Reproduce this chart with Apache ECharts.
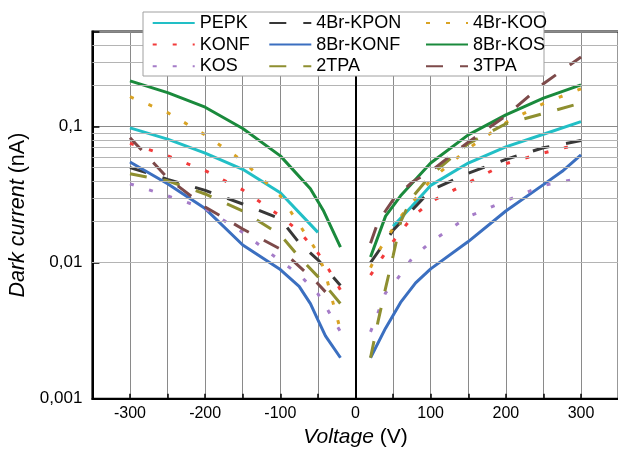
<!DOCTYPE html>
<html><head><meta charset="utf-8">
<script src="https://cdn.jsdelivr.net/npm/echarts@6/dist/echarts.min.js"></script>
<style>html,body{margin:0;padding:0;background:#fff}#c{width:618px;height:449px}</style>
</head><body><div id="c"></div>
<script>
// ---- data (Voltage V, Dark current nA) ----
const xTicks = [-300, -200, -100, 0, 100, 200, 300];
const yTicks = ['0,001', '0,01', '0,1'];
const minorGridY = [0.002,0.003,0.004,0.005,0.006,0.007,0.008,0.009,
                    0.02,0.03,0.04,0.05,0.06,0.07,0.08,0.09,0.2,0.3,0.4];

const pepkNegV = [-300,-250,-200,-150,-100,-50];
const pepkNegI = [0.098,0.081,0.064,0.0486,0.0327,0.0167];
const pepkPosV = [50,75,100,150,200,250,300];
const pepkPosI = [0.0185,0.026,0.037,0.054,0.071,0.088,0.109];

const kponNegV = [-300,-250,-200,-150,-100,-75,-50,-20];
const kponNegI = [0.050,0.041,0.034,0.027,0.021,0.014,0.0105,0.0068];
const kponPosV = [20,50,100,150,200,250,300];
const kponPosI = [0.010,0.0173,0.034,0.0455,0.0575,0.070,0.079];

const kooNegV = [-300,-250,-200,-150,-100,-50,-40,-30,-20];
const kooNegI = [0.166,0.127,0.087,0.056,0.031,0.0118,0.0083,0.0051,0.0032];
const kooPosV = [20,30,60,100,150,200,250,300];
const kooPosI = [0.0092,0.012,0.0218,0.0405,0.069,0.107,0.148,0.19];

const konfNegV = [-300,-250,-200,-150,-100,-75,-50,-35,-20];
const konfNegI = [0.0755,0.061,0.0475,0.0343,0.022,0.017,0.0118,0.0088,0.0063];
const konfPosV = [20,35,50,75,100,150,200,250,300];
const konfPosI = [0.0081,0.0108,0.0143,0.0215,0.028,0.0388,0.0535,0.064,0.075];

const brKonfNegV = [-300,-250,-200,-150,-100,-75,-60,-50,-40,-20];
const brKonfNegI = [0.055,0.038,0.025,0.0135,0.0089,0.0067,0.005,0.0038,0.0029,0.0020];
const brKonfPosV = [20,40,60,80,100,150,200,250,275,300];
const brKonfPosI = [0.0020,0.0033,0.0051,0.0071,0.009,0.0143,0.024,0.0375,0.047,0.062];

const brKosNegV = [-300,-250,-200,-150,-100,-60,-43,-20];
const brKosNegI = [0.217,0.178,0.139,0.097,0.061,0.035,0.0243,0.013];
const brKosPosV = [20,40,60,100,150,200,250,300];
const brKosPosI = [0.011,0.022,0.031,0.054,0.087,0.122,0.162,0.203];

const kosNegV = [-300,-250,-200,-150,-100,-75,-50,-40,-20];
const kosNegI = [0.038,0.031,0.025,0.0167,0.0103,0.0082,0.0059,0.0048,0.0031];
const kosPosV = [20,30,40,55,75,100,150,200,250,300];
const kosPosI = [0.0031,0.0043,0.006,0.0075,0.0107,0.0142,0.0218,0.0285,0.037,0.042];

const tpa2NegV = [-300,-250,-200,-150,-100,-75,-50,-20];
const tpa2NegI = [0.045,0.040,0.032,0.024,0.016,0.011,0.0079,0.0050];
const tpa2PosV = [20,30,40,50,60,75,100,150,200,250,300];
const tpa2PosI = [0.0020,0.0037,0.0065,0.0112,0.020,0.030,0.044,0.075,0.105,0.125,0.149];

const tpa3NegV = [-300,-250,-200,-150,-100,-75,-50,-40];
const tpa3NegI = [0.083,0.042,0.0257,0.0177,0.0126,0.0094,0.0070,0.0061];
const tpa3PosV = [20,30,50,75,100,150,200,250,300];
const tpa3PosI = [0.0139,0.0200,0.029,0.039,0.047,0.077,0.12,0.207,0.325];

// ---- styling ----
const FONT = "'Liberation Sans', Arial, sans-serif";
const DASH = [17, 17];
const DOT = [4, 16];
const defs = [
  {name:'PEPK',     color:'#22bfc6', type:'solid', neg:[pepkNegV,pepkNegI],   pos:[pepkPosV,pepkPosI]},
  {name:'4Br-KPON', color:'#383838', type:DASH,    neg:[kponNegV,kponNegI],   pos:[kponPosV,kponPosI]},
  {name:'4Br-KOO',  color:'#d9a324', type:DOT,     neg:[kooNegV,kooNegI],     pos:[kooPosV,kooPosI]},
  {name:'KONF',     color:'#f23b3b', type:DOT,     neg:[konfNegV,konfNegI],   pos:[konfPosV,konfPosI]},
  {name:'8Br-KONF', color:'#3b6fc0', type:'solid', neg:[brKonfNegV,brKonfNegI], pos:[brKonfPosV,brKonfPosI]},
  {name:'8Br-KOS',  color:'#1a8a3c', type:'solid', neg:[brKosNegV,brKosNegI], pos:[brKosPosV,brKosPosI]},
  {name:'KOS',      color:'#a57cc8', type:DOT,     neg:[kosNegV,kosNegI],     pos:[kosPosV,kosPosI]},
  {name:'2TPA',     color:'#8e8f30', type:DASH,    neg:[tpa2NegV,tpa2NegI],   pos:[tpa2PosV,tpa2PosI]},
  {name:'3TPA',     color:'#7d4a4a', type:DASH,    neg:[tpa3NegV,tpa3NegI],   pos:[tpa3PosV,tpa3PosI]}
];
const zip = (a, b) => a.map((v, i) => [v, b[i]]);

const series = [];
defs.forEach(d => {
  ['neg','pos'].forEach(side => {
    series.push({
      name: d.name, type: 'line', symbol: 'none', silent: true, animation: false,
      data: zip(d[side][0], d[side][1]),
      lineStyle: {color: d.color, width: 3, type: d.type},
      itemStyle: {color: d.color}, z: 3
    });
  });
});
// grid decorations: minor log grid lines and zero line
series.push({
  type: 'line', data: [], silent: true, animation: false, z: 1,
  markLine: {silent: true, symbol: 'none', label: {show: false}, animation: false,
    lineStyle: {color: '#b4b4b4', width: 1, type: 'solid'},
    data: minorGridY.map(v => ({yAxis: v}))}
});
series.push({
  type: 'line', data: [], silent: true, animation: false, z: 2,
  markLine: {silent: true, symbol: 'none', label: {show: false}, animation: false,
    lineStyle: {color: '#000', width: 2, type: 'solid'},
    data: [{xAxis: 0}]}
});

const legendBase = {
  orient: 'vertical', top: 14, padding: 0, itemWidth: 42, itemHeight: 14, itemGap: 3.6,
  itemStyle: {opacity: 0},
  textStyle: {fontFamily: FONT, fontSize: 18, color: '#000', lineHeight: 18}, z: 20,
  selectedMode: false
};
const chart = echarts.init(document.getElementById('c'), null, {renderer: 'canvas'});
chart.setOption({
  animation: false,
  backgroundColor: '#fff',
  grid: {left: 92.4, right: -0.6, top: 31.6, bottom: 50.3, show: true, borderColor: '#000', borderWidth: 2,
         backgroundColor: 'transparent', containLabel: false, outerBoundsMode: 'none'},
  legend: [
    Object.assign({}, legendBase, {left: 151.7, data: ['PEPK','KONF','KOS']}),
    Object.assign({}, legendBase, {left: 268.3, data: ['4Br-KPON','8Br-KONF','2TPA']}),
    Object.assign({}, legendBase, {left: 425, data: ['4Br-KOO','8Br-KOS','3TPA']})
  ],
  graphic: [{type: 'rect', z: 10, shape: {x: 143, y: 12, width: 401, height: 64},
             style: {fill: '#fff', stroke: '#a0a0a0', lineWidth: 1}}],
  xAxis: {
    type: 'value', min: -350, max: 350, interval: 50,
    name: '{i|Voltage} (V)', nameLocation: 'middle', nameGap: 28,
    nameTextStyle: {fontFamily: FONT, fontSize: 21, color: '#000', rich: {i: {fontFamily: FONT, fontSize: 21, fontStyle: 'italic', color: '#000'}}},
    axisLine: {onZero: false, lineStyle: {color: '#000', width: 2}},
    axisTick: {inside: true, length: 5, lineStyle: {color: '#000', width: 1.5}},
    axisLabel: {fontFamily: FONT, fontSize: 16, color: '#000', margin: 7,
      formatter: v => xTicks.indexOf(v) >= 0 ? String(v) : ''},
    splitLine: {show: true, lineStyle: {color: '#8a8a8a', width: 1}}
  },
  yAxis: {
    type: 'log', logBase: 10, min: 0.001, max: 0.5,
    name: '{i|Dark current} (nA)', nameLocation: 'middle', nameGap: 56, nameRotate: 90,
    nameTextStyle: {fontFamily: FONT, fontSize: 21.5, color: '#000', rich: {i: {fontFamily: FONT, fontSize: 21.5, fontStyle: 'italic', color: '#000'}}},
    axisLine: {show: true, onZero: false, lineStyle: {color: '#000', width: 2}},
    axisTick: {inside: true, length: 7, lineStyle: {color: '#000', width: 1.5}},
    axisLabel: {fontFamily: FONT, fontSize: 17, color: '#000', margin: 10,
      formatter: v => {
        const e = Math.round(Math.log10(v));
        if (Math.abs(Math.log10(v) - e) > 1e-6) return '';
        const idx = e + 3;
        return yTicks[idx] !== undefined ? yTicks[idx] : '';
      }},
    splitLine: {show: true, lineStyle: {color: '#8a8a8a', width: 1}}
  },
  series: series
});
</script></body></html>
